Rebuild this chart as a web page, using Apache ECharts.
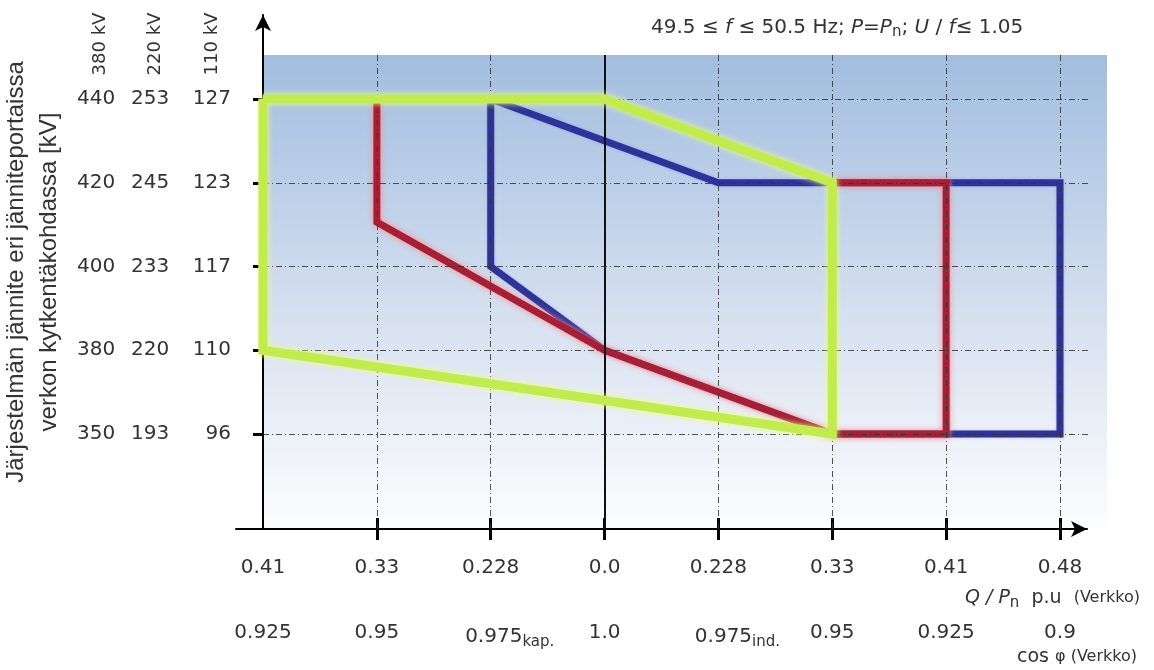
<!DOCTYPE html>
<html>
<head>
<meta charset="utf-8">
<script src="https://cdn.jsdelivr.net/npm/echarts@6/dist/echarts.min.js"></script>
<style>html,body{margin:0;padding:0;background:#fff}#c{width:1154px;height:670px}</style>
</head>
<body>
<div id="c"></div>
<script>
// ---------- data ----------
const qLabels = ['0.41', '0.33', '0.228', '0.0', '0.228', '0.33', '0.41', '0.48'];
const cosLabels = ['0.925', '0.95', '0.975', '1.0', '0.975', '0.95', '0.925', '0.9'];
const cosSub = ['', '', 'kap.', '', 'ind.', '', '', ''];
const u380 = [350, 380, 400, 420, 440];
const u220 = [193, 220, 233, 245, 253];
const u110 = [96, 110, 117, 123, 127];
const levelHeaders = ['380 kV', '220 kV', '110 kV'];
// polygons: [Q tick index, voltage level index]
const blueArea = [[2, 4], [4, 3], [7, 3], [7, 0], [5, 0], [3, 1], [2, 2], [2, 4]];
const redArea = [[1, 4], [1, 2.53], [3, 1], [5, 0], [6, 0], [6, 3], [5, 3]];
const greenArea = [[0, 4], [3, 4], [5, 3], [5, 0], [0, 1], [0, 4]];

// ---------- layout ----------
const X0 = 263, X7 = 1060, Y0 = 434, Y4 = 99, AXIS_Y = 529;
const sx = (X7 - X0) / 7, sy = (Y0 - Y4) / 4;
const px2x = p => (p - X0) / sx, py2y = p => (Y0 - p) / sy;
const gA = { left: 236, right: 1154 - 1087, top: 15, bottom: 670 - AXIS_Y };
const gB = { left: X0, right: 1154 - 1107, top: 55, bottom: 670 - AXIS_Y };
const xTicks = qLabels.map((_, i) => i);
const yTicks = u380.map((_, i) => i);
const FONT = 'DejaVu Sans';
const TXT = '#333';

const chart = echarts.init(document.getElementById('c'));
const gridLineStyle = { color: '#333', width: 1, type: [6, 3, 1, 3], opacity: 0.85 };
const vLines = xTicks.filter(i => i > 0).map(i => i === 3
  ? { xAxis: i, lineStyle: { color: '#111', width: 2, type: 'solid', opacity: 1 } }
  : { xAxis: i });
const hLines = yTicks.map(j => [{ coord: [0, j] }, { coord: [px2x(1088), j] }]);

chart.setOption({
  animation: false,
  title: {
    left: 646, top: 10,
    text: '{n|49.5 ≤ }{i|f}{n| ≤ 50.5 Hz; }{i|P}{n|=}{i|P}{s|n}{n|; }{i|U}{n| / }{i|f}{n|≤ 1.05}',
    textStyle: {
      fontWeight: 'normal',
      rich: {
        n: { fontFamily: FONT, fontSize: 20, fontWeight: 'normal', color: TXT },
        i: { fontFamily: FONT, fontSize: 20, fontWeight: 'normal', fontStyle: 'italic', color: TXT },
        s: { fontFamily: FONT, fontSize: 15, fontWeight: 'normal', color: TXT, padding: [10, 0, 0, 0] }
      }
    }
  },
  grid: [
    Object.assign({ show: false, containLabel: false, outerBoundsMode: 'none' }, gA),
    Object.assign({
      show: true, borderWidth: 0, containLabel: false, outerBoundsMode: 'none',
      backgroundColor: {
        type: 'linear', x: 0, y: 0, x2: 0, y2: 1,
        colorStops: [{ offset: 0, color: '#a1bedf' }, { offset: 0.5, color: '#d1ddee' }, { offset: 1, color: '#fdfdfe' }]
      }
    }, gB)
  ],
  xAxis: [
    {
      gridIndex: 0, type: 'value', position: 'bottom',
      min: px2x(gA.left), max: px2x(1154 - gA.right),
      axisLine: { onZero: false, symbol: ['none', 'arrow'], symbolSize: [12, 16], lineStyle: { color: '#000', width: 2 } },
      axisTick: { customValues: xTicks.slice(1), inside: true, length: 11, lineStyle: { color: '#000', width: 3 } },
      axisLabel: {
        customValues: xTicks, margin: 29, color: TXT, fontFamily: FONT, fontSize: 20,
        formatter: v => qLabels[Math.round(v)]
      },
      splitLine: { show: false }
    },
    {
      gridIndex: 0, type: 'value', position: 'bottom',
      min: px2x(gA.left), max: px2x(1154 - gA.right),
      axisLine: { show: false, onZero: false },
      axisTick: { customValues: xTicks.slice(1), length: 11, lineStyle: { color: '#000', width: 3 } },
      axisLabel: {
        customValues: xTicks, margin: 94, color: TXT,
        formatter: v => {
          const i = Math.round(v);
          return cosSub[i] ? '{p|' + cosLabels[i] + '}{s|' + cosSub[i] + '}' : '{m|' + cosLabels[i] + '}';
        },
        rich: {
          m: { fontFamily: FONT, fontSize: 20, color: TXT },
          p: { fontFamily: FONT, fontSize: 20, color: TXT, padding: [0, 0, 0, 38] },
          s: { fontFamily: FONT, fontSize: 15, color: TXT, padding: [12, 0, 0, 0] }
        }
      },
      splitLine: { show: false }
    },
    { gridIndex: 1, type: 'value', min: 0, max: px2x(1154 - gB.right), show: false }
  ],
  yAxis: [
    {
      gridIndex: 0, type: 'value',
      min: py2y(670 - gA.bottom), max: py2y(gA.top),
      axisLine: { onZero: true, symbol: ['none', 'arrow'], symbolSize: [12, 16], lineStyle: { color: '#000', width: 2 } },
      axisTick: { customValues: yTicks, length: 10, lineStyle: { color: '#000', width: 3 } },
      axisLabel: {
        customValues: yTicks, margin: 159, align: 'left',
        formatter: v => {
          const i = Math.round(v);
          return '{a|' + u380[i] + '}{b|' + u220[i] + '}{c|' + u110[i] + '}';
        },
        rich: {
          a: { fontFamily: FONT, fontSize: 20, color: TXT, width: 54, align: 'left' },
          b: { fontFamily: FONT, fontSize: 20, color: TXT, width: 58, align: 'left' },
          c: { fontFamily: FONT, fontSize: 20, color: TXT, width: 42, align: 'right' }
        }
      },
      splitLine: { show: false },
      name: 'Järjestelmän jännite eri jänniteportaissa\nverkon kytkentäkohdassa [kV]',
      nameLocation: 'middle', nameRotate: 90, nameGap: 157,
      nameTextStyle: { fontFamily: 'Liberation Sans', fontSize: 24, lineHeight: 33, color: TXT, align: 'center' }
    },
    { gridIndex: 1, type: 'value', min: py2y(670 - gB.bottom), max: py2y(gB.top), show: false }
  ],
  graphic: [
    ...levelHeaders.map((t, k) => ({
      type: 'text', x: [100, 155, 212][k], y: 44, rotation: Math.PI / 2,
      style: { text: t, font: '18px "DejaVu Sans"', fill: TXT, align: 'center', verticalAlign: 'middle' }
    })),
    {
      type: 'text', x: 1140, y: 598,
      style: {
        text: '{i|Q / P}{s|n}{n|  p.u  }{v|(Verkko)}', align: 'right', verticalAlign: 'middle',
        rich: {
          i: { fontFamily: FONT, fontSize: 19, fontStyle: 'italic', fill: TXT },
          s: { fontFamily: FONT, fontSize: 15, fill: TXT, padding: [10, 0, 0, 0] },
          n: { fontFamily: FONT, fontSize: 19, fill: TXT },
          v: { fontFamily: FONT, fontSize: 16, fill: TXT }
        }
      }
    },
    {
      type: 'text', x: 1137, y: 657,
      style: {
        text: '{n|cos }{v|φ (Verkko)}', align: 'right', verticalAlign: 'middle',
        rich: {
          n: { fontFamily: FONT, fontSize: 19, fill: TXT },
          v: { fontFamily: FONT, fontSize: 16, fill: TXT }
        }
      }
    }
  ],
  series: [
    {
      type: 'line', xAxisIndex: 2, yAxisIndex: 1, data: [], z: 1, silent: true,
      markLine: {
        silent: true, symbol: ['none', 'none'], label: { show: false },
        lineStyle: gridLineStyle, emphasis: { disabled: true },
        data: [...vLines, ...hLines]
      }
    },
    {
      type: 'line', xAxisIndex: 2, yAxisIndex: 1, data: blueArea, symbol: 'none', z: 3, silent: true,
      lineStyle: { color: '#2d3399', width: 7, join: 'miter', shadowColor: 'rgba(120,130,255,0.5)', shadowBlur: 3 }
    },
    {
      type: 'line', xAxisIndex: 2, yAxisIndex: 1, data: redArea, symbol: 'none', z: 4, silent: true,
      lineStyle: { color: '#a81e35', width: 7, join: 'miter', shadowColor: '#ff8c8c', shadowBlur: 6 }
    },
    {
      type: 'line', xAxisIndex: 2, yAxisIndex: 1, data: greenArea, symbol: 'none', z: 5, silent: true,
      lineStyle: { color: '#c2ec4c', width: 9, join: 'miter', shadowColor: '#e8ff8a', shadowBlur: 6 }
    }
  ]
});
</script>
</body>
</html>
